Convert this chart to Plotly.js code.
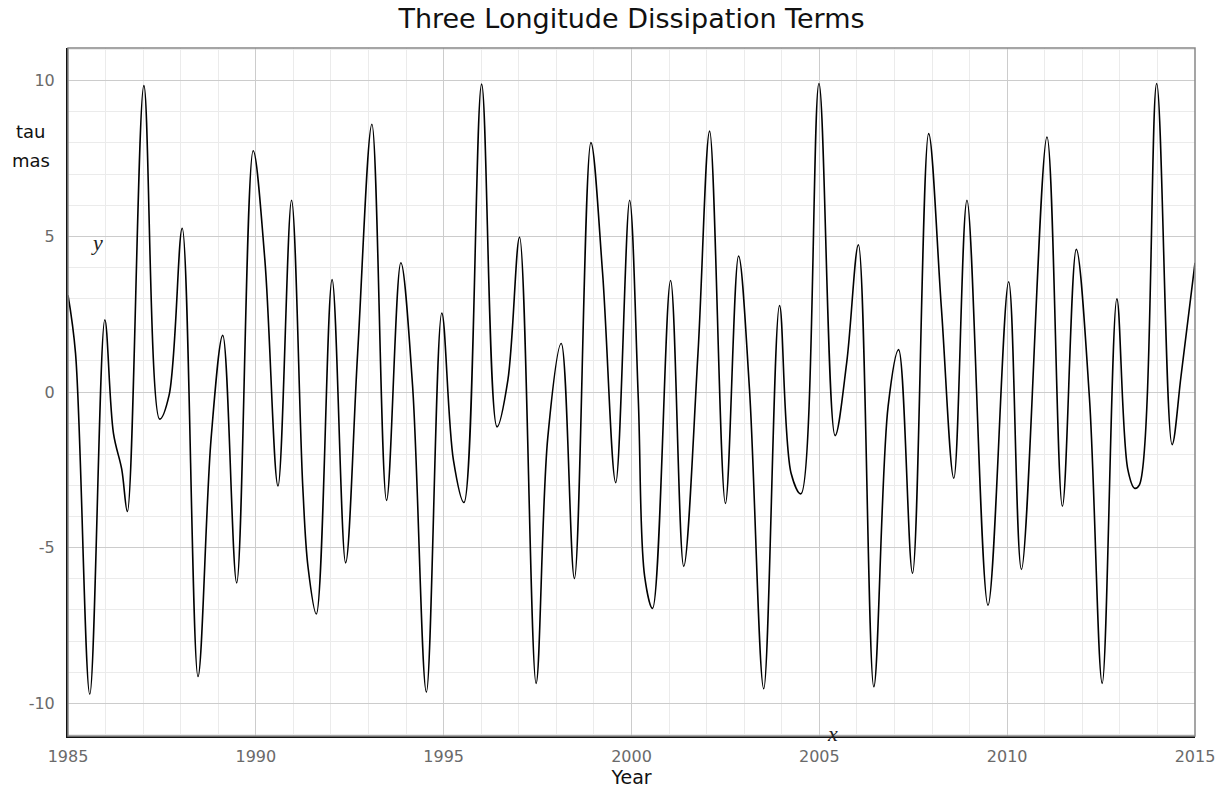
<!DOCTYPE html>
<html>
<head>
<meta charset="utf-8">
<script src="https://cdn.plot.ly/plotly-3.0.1.min.js"></script>
<style>html,body{margin:0;padding:0;background:#fff;}#chart{width:1223px;height:790px;}</style>
</head>
<body>
<div id="chart"></div>
<script>
// (year, tau in mas)
const years = [
  1985.00, 1985.20, 1985.58, 1985.98, 1986.21, 1986.43, 1986.58, 1987.02, 1987.44, 1987.69,
  1988.04, 1988.46, 1988.81, 1989.12, 1989.49, 1989.93, 1990.24, 1990.59, 1990.95, 1991.25,
  1991.39, 1991.61, 1992.03, 1992.39, 1992.71, 1993.09, 1993.48, 1993.86, 1994.17, 1994.54,
  1994.95, 1995.26, 1995.54, 1996.01, 1996.42, 1996.71, 1997.02, 1997.46, 1997.77, 1998.13,
  1998.48, 1998.92, 1999.23, 1999.58, 1999.95, 2000.18, 2000.35, 2000.56, 2001.04, 2001.39,
  2001.77, 2002.08, 2002.50, 2002.85, 2003.14, 2003.52, 2003.94, 2004.25, 2004.51, 2004.99,
  2005.42, 2005.73, 2006.04, 2006.45, 2006.83, 2007.11, 2007.48, 2007.91, 2008.25, 2008.58,
  2008.93, 2009.49, 2010.04, 2010.38, 2011.06, 2011.47, 2011.84, 2012.19, 2012.53, 2012.92,
  2013.21, 2013.39, 2013.52, 2013.98, 2014.39, 2014.63, 2015.00
];
const tau = [
   3.11,  1.25, -9.71,  2.32, -1.33, -2.48, -3.84,  9.84, -0.87, -0.11,
   5.26, -9.14, -1.48,  1.82, -6.13,  7.75,  4.25, -3.02,  6.16, -3.05,
  -5.63, -7.13,  3.61, -5.49,  1.25,  8.60, -3.48,  4.15,  0.24, -9.64,
   2.54, -2.19, -3.55,  9.89, -1.12,  0.39,  4.97, -9.36, -1.48,  1.56,
  -5.99,  8.01,  3.83, -2.91,  6.16, -0.19, -5.92, -6.95,  3.58, -5.60,
   1.25,  8.38, -3.58,  4.37,  0.10, -9.53,  2.78, -2.62, -3.27,  9.91,
  -1.40,  0.96,  4.73, -9.47, -0.47,  1.36, -5.82,  8.30,  2.68, -2.77,
   6.16, -6.85,  3.54, -5.70,  8.19, -3.67,  4.58, -0.19, -9.36,  2.99,
  -2.48, -3.09, -2.98,  9.91, -1.69,  0.53,  4.15
];
const xTicks = [1985, 1990, 1995, 2000, 2005, 2010, 2015];
const yTicks = [-10, -5, 0, 5, 10];

const trace = {
  x: years, y: tau, type: 'scatter', mode: 'lines',
  line: {color: '#000', width: 1.6, shape: 'spline', smoothing: 1},
  hoverinfo: 'x+y'
};

const tickFont = {family: 'DejaVu Sans, sans-serif', size: 16, color: '#6a6a6a'};
const labelFont = {family: 'DejaVu Sans, sans-serif', size: 18, color: '#111'};

const layout = {
  width: 1223, height: 790,
  margin: {l: 68, r: 28, t: 48, b: 54},
  paper_bgcolor: '#fff', plot_bgcolor: '#fff',
  showlegend: false,
  title: {text: 'Three Longitude Dissipation Terms', xref: 'paper', x: 0.5, xanchor: 'center', y: 0.976, yanchor: 'middle',
          font: {family: 'DejaVu Sans, sans-serif', size: 27, color: '#111'}},
  xaxis: {
    range: [1985, 2015], tickvals: xTicks, ticktext: xTicks.map(String),
    showgrid: true, gridcolor: '#cccccc', gridwidth: 1.3, zeroline: false,
    showline: true, linecolor: '#111', linewidth: 2, ticks: '', ticklabelstandoff: 5,
    tickfont: tickFont,
    minor: {dtick: 1, tick0: 1985, showgrid: true, gridcolor: '#ebebeb', gridwidth: 1, ticks: ''},
    title: {text: 'Year', standoff: 2, font: {family: 'DejaVu Sans, sans-serif', size: 19, color: '#111'}}
  },
  yaxis: {
    range: [-11.05, 11.05], tickvals: yTicks, ticktext: yTicks.map(String),
    showgrid: true, gridcolor: '#cccccc', gridwidth: 1.3, zeroline: false,
    showline: true, linecolor: '#111', linewidth: 2, ticks: '', ticklabelstandoff: 8,
    tickfont: tickFont,
    minor: {dtick: 1, tick0: 0, showgrid: true, gridcolor: '#ebebeb', gridwidth: 1, ticks: ''}
  },
  shapes: [
    {type: 'rect', xref: 'paper', yref: 'paper', x0: 0, x1: 1, y0: 0, y1: 1,
     line: {color: '#888', width: 1.5}, layer: 'above'}
  ],
  annotations: [
    {text: 'tau', xref: 'paper', yref: 'paper', x: -0.033, y: 0.879, xanchor: 'center', yanchor: 'middle',
     showarrow: false, font: labelFont},
    {text: 'mas', xref: 'paper', yref: 'paper', x: -0.033, y: 0.837, xanchor: 'center', yanchor: 'middle',
     showarrow: false, font: labelFont},
    {text: '<i>y</i>', xref: 'paper', yref: 'paper', x: 0.026, y: 0.718, xanchor: 'center', yanchor: 'middle',
     showarrow: false, font: {family: 'Liberation Serif, serif', size: 22, color: '#222'}},
    {text: '<i>x</i>', xref: 'paper', yref: 'paper', x: 0.678, y: 0.003, xanchor: 'center', yanchor: 'middle',
     showarrow: false, font: {family: 'Liberation Serif, serif', size: 22, color: '#222'}}
  ]
};

Plotly.newPlot('chart', [trace], layout, {displayModeBar: false, responsive: false});
</script>
</body>
</html>
